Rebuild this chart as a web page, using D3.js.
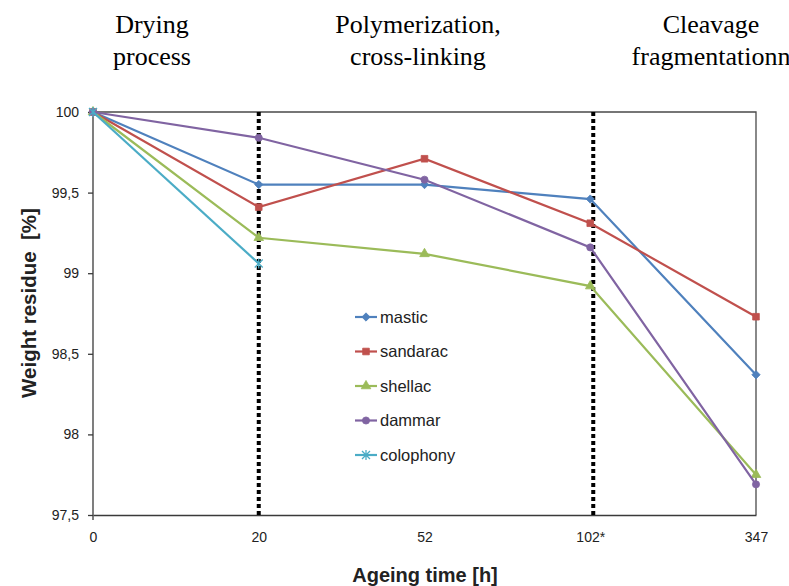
<!DOCTYPE html>
<html>
<head>
<meta charset="utf-8">
<script src="https://cdn.jsdelivr.net/npm/d3@7"></script>
<style>
  html, body { margin: 0; padding: 0; background: #fff; }
  svg { display: block; }
</style>
</head>
<body>
<svg id="chart" width="789" height="586"></svg>
<script>
// Ageing time categories (equally spaced on the axis)
const categories = ["0", "20", "52", "102*", "347"];

// Weight residue [%] per resin
const mastic    = [100, 99.55, 99.55, 99.46, 98.37];
const sandarac  = [100, 99.41, 99.71, 99.31, 98.73];
const shellac   = [100, 99.22, 99.12, 98.92, 97.75];
const dammar    = [100, 99.84, 99.58, 99.16, 97.69];
const colophony = [100, 99.06];

const seriesNames = ["mastic", "sandarac", "shellac", "dammar", "colophony"];
const yTicks = [97.5, 98, 98.5, 99, 99.5, 100];
const phaseLabels = [
  ["Drying", "process"],
  ["Polymerization,", "cross-linking"],
  ["Cleavage", "fragmentationn"]
];
const dividers = ["20", "102*"];

const series = [
  { name: seriesNames[0], values: mastic,    color: "#4F81BD", marker: "diamond" },
  { name: seriesNames[1], values: sandarac,  color: "#C0504D", marker: "square" },
  { name: seriesNames[2], values: shellac,   color: "#9BBB59", marker: "triangle" },
  { name: seriesNames[3], values: dammar,    color: "#8064A2", marker: "circle" },
  { name: seriesNames[4], values: colophony, color: "#4BACC6", marker: "star" }
];

const svg = d3.select("#chart");
const plot = { left: 93, right: 756, top: 112, bottom: 515 };

const x = d3.scalePoint().domain(categories).range([plot.left, plot.right]).padding(0);
const y = d3.scaleLinear().domain([97.5, 100]).range([plot.bottom, plot.top]);

const fmt = d => String(d).replace(".", ",");

// Plot frame (top and right edges)
svg.append("path")
  .attr("d", `M${plot.left},${plot.top}H${plot.right}V${plot.bottom}`)
  .attr("fill", "none").attr("stroke", "#4a4a4a").attr("stroke-width", 1.3);

// Y axis
const yAxis = svg.append("g")
  .attr("transform", `translate(${plot.left},0)`)
  .call(d3.axisLeft(y).tickValues(yTicks).tickFormat(fmt).tickSize(5).tickPadding(9));
yAxis.select(".domain").attr("d", `M0,${plot.top}V${plot.bottom + 5}`);
yAxis.selectAll("line, path").attr("stroke", "#3a3a3a").attr("stroke-width", 1.3);
yAxis.selectAll("text")
  .attr("font-family", "'Liberation Sans', Arial, sans-serif")
  .attr("font-size", 14).attr("fill", "#222");

// X axis
const xAxis = svg.append("g")
  .attr("transform", `translate(0,${plot.bottom})`)
  .call(d3.axisBottom(x).tickSize(0).tickPadding(17));
xAxis.select(".domain").attr("stroke", "#3a3a3a").attr("stroke-width", 1.3);
xAxis.selectAll("text")
  .attr("font-family", "'Liberation Sans', Arial, sans-serif")
  .attr("font-size", 14).attr("fill", "#222");

// Phase dividers
svg.append("g").selectAll("line")
  .data(dividers).join("line")
  .attr("x1", d => x(d) + (d === "102*" ? 3 : 0))
  .attr("x2", d => x(d) + (d === "102*" ? 3 : 0))
  .attr("y1", plot.top).attr("y2", plot.bottom)
  .attr("stroke", "#000").attr("stroke-width", 4)
  .attr("stroke-dasharray", "4 3");

// Marker shapes
function markerPath(type) {
  switch (type) {
    case "diamond":  return d3.symbol(d3.symbolDiamond2, 44)();
    case "square":   return d3.symbol(d3.symbolSquare, 44)();
    case "triangle": return d3.symbol(d3.symbolTriangle, 40)();
    case "circle":   return d3.symbol(d3.symbolCircle, 40)();
    case "star":     return "M-4,-4L4,4M-4,4L4,-4M0,-5V5";
  }
}
function drawMarker(sel, s) {
  sel.append("path")
    .attr("d", markerPath(s.marker))
    .attr("fill", s.marker === "star" ? "none" : s.color)
    .attr("stroke", s.color)
    .attr("stroke-width", s.marker === "star" ? 1.3 : 0.8);
}

const line = d3.line().x((d, i) => x(categories[i])).y(d => y(d));

const seriesG = svg.append("g");
series.forEach(s => {
  const g = seriesG.append("g");
  g.append("path")
    .attr("d", line(s.values))
    .attr("fill", "none").attr("stroke", s.color).attr("stroke-width", 2.2);
  s.values.forEach((v, i) => {
    const m = g.append("g").attr("transform", `translate(${x(categories[i])},${y(v)})`);
    drawMarker(m, s);
  });
});

// Legend
const legend = svg.append("g");
series.forEach((s, i) => {
  const g = legend.append("g").attr("transform", `translate(355,${317 + i * 34.5})`);
  g.append("line").attr("x1", 0).attr("x2", 22).attr("y1", 0).attr("y2", 0)
    .attr("stroke", s.color).attr("stroke-width", 2.2);
  const m = g.append("g").attr("transform", "translate(11,0)");
  drawMarker(m, s);
  g.append("text").attr("x", 25).attr("y", 0).attr("dy", "0.35em")
    .attr("font-family", "'Liberation Sans', Arial, sans-serif")
    .attr("font-size", 16.5).attr("fill", "#222").text(s.name);
});

// Axis titles
svg.append("text")
  .attr("transform", "translate(36,303) rotate(-90)")
  .attr("text-anchor", "middle")
  .attr("font-family", "'Liberation Sans', Arial, sans-serif")
  .attr("font-weight", "bold").attr("font-size", 20.5).attr("fill", "#222")
  .attr("xml:space", "preserve")
  .text("Weight residue  [%]");

svg.append("text")
  .attr("x", 425).attr("y", 582)
  .attr("text-anchor", "middle")
  .attr("font-family", "'Liberation Sans', Arial, sans-serif")
  .attr("font-weight", "bold").attr("font-size", 20).attr("fill", "#222")
  .text("Ageing time [h]");

// Process phase annotations
const phaseX = [152, 418, 711];
phaseLabels.forEach((lines, i) => {
  lines.forEach((t, j) => {
    svg.append("text")
      .attr("x", phaseX[i]).attr("y", 33 + j * 32)
      .attr("text-anchor", "middle")
      .attr("font-family", "'Liberation Serif', 'Times New Roman', serif")
      .attr("font-size", 26).attr("fill", "#000")
      .text(t);
  });
});
</script>
</body>
</html>
